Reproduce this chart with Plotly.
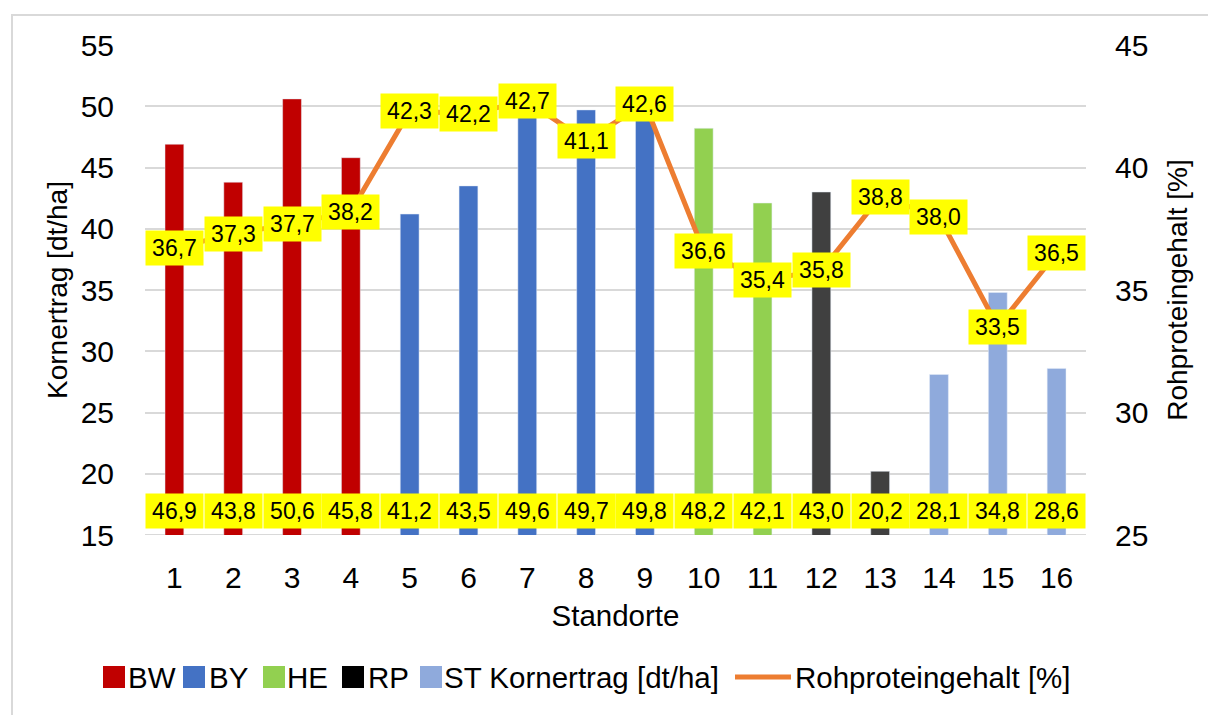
import plotly.graph_objects as go

# ---- data ----
sites = list(range(1, 17))
regions = ["BW"] * 4 + ["BY"] * 5 + ["HE"] * 2 + ["RP"] * 2 + ["ST"] * 3
yield_dt = [46.9, 43.8, 50.6, 45.8, 41.2, 43.5, 49.6, 49.7, 49.8, 48.2, 42.1, 43.0, 20.2, 28.1, 34.8, 28.6]
protein = [36.7, 37.3, 37.7, 38.2, 42.3, 42.2, 42.7, 41.1, 42.6, 36.6, 35.4, 35.8, 38.8, 38.0, 33.5, 36.5]
region_names = ["BW", "BY", "HE", "RP", "ST"]
region_colors = {"BW": "#C00000", "BY": "#4472C4", "HE": "#92D050", "RP": "#404040", "ST": "#8FAADC"}
legend_colors = {"BW": "#C00000", "BY": "#4472C4", "HE": "#92D050", "RP": "#000000", "ST": "#8FAADC"}
legend_labels = ["BW", "BY", "HE", "RP", "ST Kornertrag [dt/ha]"]
line_label = "Rohproteingehalt [%]"
label_base = 17  # y position (left axis) of the bar value boxes

FONT = "Liberation Sans, Arial, sans-serif"

def fmt(v):
    return f"{v:.1f}".replace(".", ",")

fig = go.Figure()

for reg in region_names:
    xs = [s for s, r in zip(sites, regions) if r == reg]
    ys = [v for v, r in zip(yield_dt, regions) if r == reg]
    fig.add_trace(go.Bar(x=xs, y=ys, name=reg, marker_color=region_colors[reg],
                         width=0.32, showlegend=False))

fig.add_trace(go.Scatter(x=sites, y=protein, yaxis="y2", mode="lines",
                         line=dict(color="#ED7D31", width=5), name=line_label,
                         showlegend=False))

annotations = []
for s, v in zip(sites, yield_dt):
    annotations.append(dict(x=s, y=label_base, xref="x", yref="y", text=fmt(v),
                            showarrow=False, bgcolor="#FFFF00", width=53, height=30,
                            borderpad=2, font=dict(family=FONT, size=23, color="#000000")))
for s, v in zip(sites, protein):
    annotations.append(dict(x=s, y=v, xref="x", yref="y2", text=fmt(v),
                            showarrow=False, bgcolor="#FFFF00", width=53, height=30,
                            borderpad=2, font=dict(family=FONT, size=23, color="#000000")))

# ---- custom legend (pixel positions converted to paper coords) ----
W, H = 941.0, 490.0
L, T = 145.0, 45.0
def px2x(px):
    return (px - L) / W
def py2y(py):
    return (T + H - py) / H

shapes = []
leg_y = 677
sq_x = [103, 183, 263, 342, 420]
txt_x = [126, 207, 285, 366, 442]
for i, reg in enumerate(region_names):
    shapes.append(dict(type="rect", xref="paper", yref="paper",
                       x0=px2x(sq_x[i]), x1=px2x(sq_x[i] + 22),
                       y0=py2y(leg_y + 11), y1=py2y(leg_y - 11),
                       fillcolor=legend_colors[reg], line=dict(width=0)))
    annotations.append(dict(x=px2x(txt_x[i]), y=py2y(leg_y), xref="paper", yref="paper",
                            text=legend_labels[i], showarrow=False, xanchor="left",
                            yanchor="middle", font=dict(family=FONT, size=29.5, color="#000000")))
shapes.append(dict(type="line", xref="paper", yref="paper",
                   x0=px2x(735), x1=px2x(791), y0=py2y(leg_y), y1=py2y(leg_y),
                   line=dict(color="#ED7D31", width=5)))
annotations.append(dict(x=px2x(793), y=py2y(leg_y), xref="paper", yref="paper",
                        text=line_label, showarrow=False, xanchor="left", yanchor="middle",
                        font=dict(family=FONT, size=29.5, color="#000000")))

# outer border (right and bottom edges fall outside the figure, as in the original)
shapes.append(dict(type="rect", xref="paper", yref="paper",
                   x0=px2x(12), x1=px2x(1225), y0=py2y(730), y1=py2y(15),
                   line=dict(color="#D9D9D9", width=2), fillcolor="rgba(0,0,0,0)", layer="below"))

fig.update_layout(
    width=1208, height=715,
    margin=dict(l=145, r=1208 - 145 - 941, t=45, b=715 - 45 - 490),
    paper_bgcolor="white", plot_bgcolor="white",
    barmode="overlay",
    font=dict(family=FONT, size=29, color="#000000"),
    showlegend=False,
    annotations=annotations,
    shapes=shapes,
    xaxis=dict(range=[0.5, 16.5], tickmode="array", tickvals=sites,
               ticktext=[str(s) for s in sites], showgrid=False, zeroline=False,
               showline=False, ticks="", ticklabelstandoff=22,
               tickfont=dict(size=30),
               title=dict(text="Standorte", font=dict(size=29.5), standoff=12),
               automargin=False),
    yaxis=dict(range=[15, 55], tickvals=[15, 20, 25, 30, 35, 40, 45, 50, 55],
               showgrid=True, gridcolor="#D9D9D9", gridwidth=1.5, zeroline=False,
               showline=False, ticks="", ticklabelstandoff=30,
               tickfont=dict(size=30),
               title=dict(text="Kornertrag [dt/ha]", font=dict(size=28), standoff=4),
               automargin=False),
    yaxis2=dict(range=[25, 45], tickvals=[25, 30, 35, 40, 45], overlaying="y", side="right",
                showgrid=False, zeroline=False, showline=False, ticks="",
                ticklabelstandoff=28, tickfont=dict(size=30),
                title=dict(text="Rohproteingehalt [%]", font=dict(size=28), standoff=20),
                automargin=False),
)
# bottom axis line at 15
fig.add_shape(type="line", xref="paper", yref="y", x0=0, x1=1, y0=15, y1=15,
              line=dict(color="#D9D9D9", width=2), layer="below")

fig.write_html("out.html", config={"displayModeBar": False},
               post_script="document.body.style.margin='0';document.body.style.overflow='hidden';")
